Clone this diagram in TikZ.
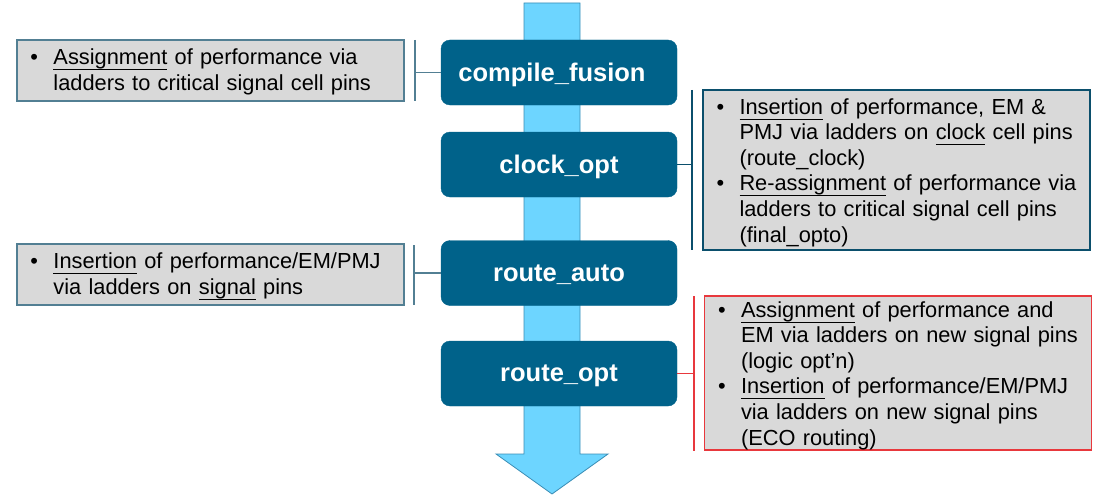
\documentclass[tikz,border=0pt]{standalone}
\usepackage{fontspec}
\setmainfont{Liberation Sans}
\usepackage{array}
\definecolor{stepblue}{HTML}{00628A}
\definecolor{arrowfill}{HTML}{6DD5FF}
\definecolor{arrowline}{HTML}{3A8DB5}
\definecolor{boxgray}{HTML}{D9D9D9}
\definecolor{leftline}{HTML}{527F93}
\definecolor{darknavy}{HTML}{0B4F6C}
\definecolor{redline}{HTML}{E8383D}
\newsavebox\ulwbox
\newcommand\ulw[1]{\sbox\ulwbox{#1}\rlap{\rule[-5.5pt]{\wd\ulwbox}{1pt}}\usebox\ulwbox}
\newcommand\bul{\textbullet}
\newcommand\lowered[2]{\raisebox{-#1}[\height][\depth]{#2}}
\tikzset{
  stepbox/.style={draw=stepblue, fill=stepblue, rounded corners=9pt, minimum width=236pt,
    minimum height=65pt, text=white, font=\fontsize{25.5}{30}\selectfont\bfseries, inner sep=0pt},
  notebox/.style={fill=boxgray, minimum width=387pt, text width=360pt, inner xsep=13.5pt,
    inner ysep=0pt, align=left, font=\fontsize{21.8}{25.6}\selectfont},
  bracketline/.style={line width=1.4pt},
}
\begin{document}
\begin{tikzpicture}[x=1pt,y=-1pt]
\useasboundingbox (0,0) rectangle (1098,503);
% flow arrow
\path[fill=arrowfill, draw=arrowline, line width=0.8pt]
  (524,3) -- (580,3) -- (580,454) -- (608,454) -- (552,494) -- (496,454) -- (524,454) -- cycle;
% steps
\node[stepbox] (s1) at (559,72.5) {\lowered{2pt}{compile\_fusion}\hspace*{14pt}};
\node[stepbox] (s2) at (559,164.5) {\lowered{2pt}{clock\_opt}};
\node[stepbox] (s3) at (559,273) {\lowered{2pt}{route\_auto}};
\node[stepbox] (s4) at (559,373.5) {\lowered{2pt}{route\_opt}};
% note boxes
\node[notebox, draw=leftline, line width=1.3pt, minimum height=61pt] (n1) at (210.5,70.5)
  {\lowered{2pt}{\begin{tabular}{@{}p{23pt}@{}l@{}}\bul & \ulw{Assignment} of performance via\\ & ladders to critical signal cell pins\end{tabular}}};
\node[notebox, draw=leftline, line width=1.3pt, minimum height=61pt] (n3) at (210.5,274.5)
  {\lowered{2pt}{\begin{tabular}{@{}p{23pt}@{}l@{}}\bul & \ulw{Insertion} of performance/EM/PMJ\\ & via ladders on \ulw{signal} pins\end{tabular}}};
\node[notebox, draw=darknavy, line width=2.4pt, minimum height=160pt] (n2) at (896.5,170)
  {\lowered{3pt}{\begin{tabular}{@{}p{23pt}@{}l@{}}\bul & \ulw{Insertion} of performance, EM \&\\ & PMJ via ladders on \ulw{clock} cell pins\\ & (route\_clock)\\
  \bul & \ulw{Re-assignment} of performance via\\ & ladders to critical signal cell pins\\ & (final\_opto)\end{tabular}}};
\node[notebox, draw=redline, line width=1.3pt, minimum height=154pt] (n4) at (898,373)
  {\lowered{3pt}{\begin{tabular}{@{}p{23pt}@{}l@{}}\bul & \ulw{Assignment} of performance and\\ & EM via ladders on new signal pins\\ & (logic opt’n)\\
  \bul & \ulw{Insertion} of performance/EM/PMJ\\ & via ladders on new signal pins\\ & (ECO routing)\end{tabular}}};
% brackets
\coordinate (b1t) at (415,40);  \coordinate (b1b) at (415,101);
\coordinate (b2t) at (692,90);  \coordinate (b2b) at (692,250);
\coordinate (b3t) at (414,245); \coordinate (b3b) at (414,305);
\coordinate (b4t) at (694,296); \coordinate (b4b) at (694,451);
\draw[bracketline, leftline] (b1t) -- (b1b);
\draw[bracketline, leftline] (s1.west) -- (s1.west -| b1t);
\draw[bracketline, darknavy] (b2t) -- (b2b);
\draw[bracketline, darknavy] (s2.east) -- (s2.east -| b2t);
\draw[bracketline, leftline] (b3t) -- (b3b);
\draw[bracketline, leftline] (s3.west) -- (s3.west -| b3t);
\draw[bracketline, redline] (b4t) -- (b4b);
\draw[bracketline, redline] (s4.east) -- (s4.east -| b4t);
\end{tikzpicture}
\end{document}
